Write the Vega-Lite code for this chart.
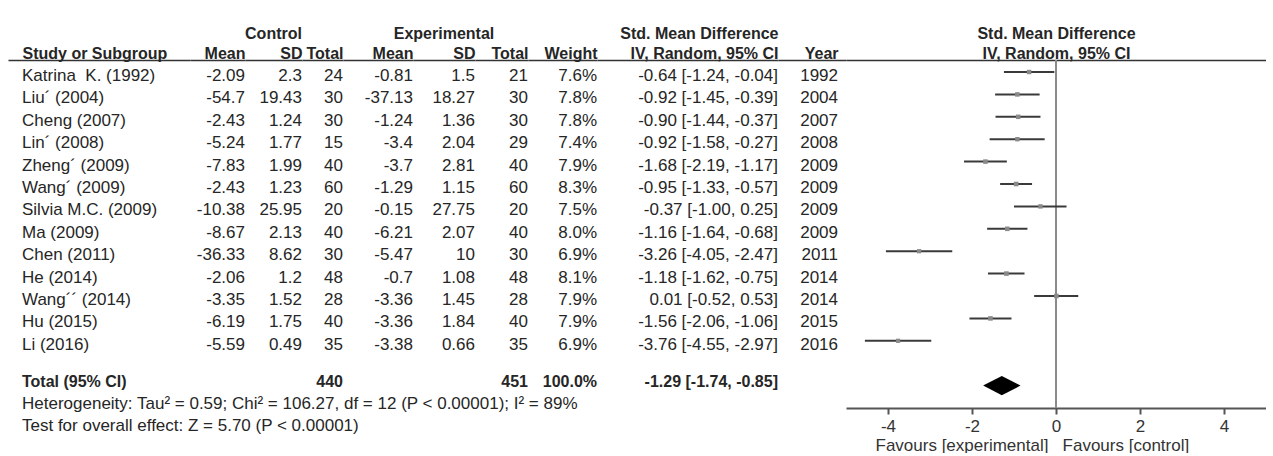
{
  "$schema": "https://vega.github.io/schema/vega-lite/v6.json",
  "padding": {"left": 8, "top": 25, "right": 0, "bottom": 0},
  "bounds": "flush",
  "spacing": 0,
  "data": {"values": [
    {"study": "Katrina\u00a0 K. (1992)", "kind": "study", "c_mean": "-2.09", "c_sd": "2.3", "c_n": "24", "e_mean": "-0.81", "e_sd": "1.5", "e_n": "21", "weight": "7.6%", "w": 7.6, "ci": "-0.64 [-1.24, -0.04]", "year": "1992", "est": -0.64, "lo": -1.24, "hi": -0.04},
    {"study": "Liu´ (2004)", "kind": "study", "c_mean": "-54.7", "c_sd": "19.43", "c_n": "30", "e_mean": "-37.13", "e_sd": "18.27", "e_n": "30", "weight": "7.8%", "w": 7.8, "ci": "-0.92 [-1.45, -0.39]", "year": "2004", "est": -0.92, "lo": -1.45, "hi": -0.39},
    {"study": "Cheng (2007)", "kind": "study", "c_mean": "-2.43", "c_sd": "1.24", "c_n": "30", "e_mean": "-1.24", "e_sd": "1.36", "e_n": "30", "weight": "7.8%", "w": 7.8, "ci": "-0.90 [-1.44, -0.37]", "year": "2007", "est": -0.90, "lo": -1.44, "hi": -0.37},
    {"study": "Lin´ (2008)", "kind": "study", "c_mean": "-5.24", "c_sd": "1.77", "c_n": "15", "e_mean": "-3.4", "e_sd": "2.04", "e_n": "29", "weight": "7.4%", "w": 7.4, "ci": "-0.92 [-1.58, -0.27]", "year": "2008", "est": -0.92, "lo": -1.58, "hi": -0.27},
    {"study": "Zheng´ (2009)", "kind": "study", "c_mean": "-7.83", "c_sd": "1.99", "c_n": "40", "e_mean": "-3.7", "e_sd": "2.81", "e_n": "40", "weight": "7.9%", "w": 7.9, "ci": "-1.68 [-2.19, -1.17]", "year": "2009", "est": -1.68, "lo": -2.19, "hi": -1.17},
    {"study": "Wang´ (2009)", "kind": "study", "c_mean": "-2.43", "c_sd": "1.23", "c_n": "60", "e_mean": "-1.29", "e_sd": "1.15", "e_n": "60", "weight": "8.3%", "w": 8.3, "ci": "-0.95 [-1.33, -0.57]", "year": "2009", "est": -0.95, "lo": -1.33, "hi": -0.57},
    {"study": "Silvia M.C. (2009)", "kind": "study", "c_mean": "-10.38", "c_sd": "25.95", "c_n": "20", "e_mean": "-0.15", "e_sd": "27.75", "e_n": "20", "weight": "7.5%", "w": 7.5, "ci": "-0.37 [-1.00, 0.25]", "year": "2009", "est": -0.37, "lo": -1.00, "hi": 0.25},
    {"study": "Ma (2009)", "kind": "study", "c_mean": "-8.67", "c_sd": "2.13", "c_n": "40", "e_mean": "-6.21", "e_sd": "2.07", "e_n": "40", "weight": "8.0%", "w": 8.0, "ci": "-1.16 [-1.64, -0.68]", "year": "2009", "est": -1.16, "lo": -1.64, "hi": -0.68},
    {"study": "Chen (2011)", "kind": "study", "c_mean": "-36.33", "c_sd": "8.62", "c_n": "30", "e_mean": "-5.47", "e_sd": "10", "e_n": "30", "weight": "6.9%", "w": 6.9, "ci": "-3.26 [-4.05, -2.47]", "year": "2011", "est": -3.26, "lo": -4.05, "hi": -2.47},
    {"study": "He (2014)", "kind": "study", "c_mean": "-2.06", "c_sd": "1.2", "c_n": "48", "e_mean": "-0.7", "e_sd": "1.08", "e_n": "48", "weight": "8.1%", "w": 8.1, "ci": "-1.18 [-1.62, -0.75]", "year": "2014", "est": -1.18, "lo": -1.62, "hi": -0.75},
    {"study": "Wang´´ (2014)", "kind": "study", "c_mean": "-3.35", "c_sd": "1.52", "c_n": "28", "e_mean": "-3.36", "e_sd": "1.45", "e_n": "28", "weight": "7.9%", "w": 7.9, "ci": "0.01 [-0.52, 0.53]", "year": "2014", "est": 0.01, "lo": -0.52, "hi": 0.53},
    {"study": "Hu (2015)", "kind": "study", "c_mean": "-6.19", "c_sd": "1.75", "c_n": "40", "e_mean": "-3.36", "e_sd": "1.84", "e_n": "40", "weight": "7.9%", "w": 7.9, "ci": "-1.56 [-2.06, -1.06]", "year": "2015", "est": -1.56, "lo": -2.06, "hi": -1.06},
    {"study": "Li (2016)", "kind": "study", "c_mean": "-5.59", "c_sd": "0.49", "c_n": "35", "e_mean": "-3.38", "e_sd": "0.66", "e_n": "35", "weight": "6.9%", "w": 6.9, "ci": "-3.76 [-4.55, -2.97]", "year": "2016", "est": -3.76, "lo": -4.55, "hi": -2.97},
    {"study": " ", "kind": "blank"},
    {"study": "Total (95% CI)", "kind": "total", "c_n": "440", "e_n": "451", "weight": "100.0%", "ci": "-1.29 [-1.74, -0.85]", "est": -1.29, "lo": -1.74, "hi": -0.85},
    {"study": "Heterogeneity: Tau² = 0.59; Chi² = 106.27, df = 12 (P < 0.00001); I² = 89%", "kind": "note"},
    {"study": "Test for overall effect: Z = 5.70 (P < 0.00001)", "kind": "note"}
  ]},
  "hconcat": [
    {
      "width": 182, "height": 380,
      "mark": {"type": "text", "align": "left", "baseline": "middle", "dx": 14, "dy": {"expr": "datum.kind == 'study' ? 4 : -4"}, "fontWeight": {"expr": "datum.kind == 'total' ? 'bold' : 'normal'"}, "fontSize": {"expr": "datum.kind == 'total' ? 16 : 17"}},
      "encoding": {
        "x": {"datum": 0, "type": "quantitative", "scale": {"domain": [0, 1]}, "axis": {"orient": "top", "title": "Study or Subgroup", "titleX": 14, "titleAlign": "left"}},
        "y": {"field": "study", "type": "nominal", "sort": null, "axis": null, "scale": {"type": "point", "padding": 0.482, "align": 0.556, "round": false}},
        "text": {"field": "study", "type": "nominal"}
      }
    },
    {
      "width": 55, "height": 380,
      "mark": {"type": "text", "align": "right", "baseline": "middle", "dy": {"expr": "datum.kind == 'study' ? 4 : -4"}, "fontWeight": {"expr": "datum.kind == 'total' ? 'bold' : 'normal'"}, "fontSize": {"expr": "datum.kind == 'total' ? 16 : 17"}},
      "encoding": {
        "x": {"datum": 1, "type": "quantitative", "scale": {"domain": [0, 1]}, "axis": {"orient": "top", "title": "Mean", "titleAnchor": "end"}},
        "y": {"field": "study", "type": "nominal", "sort": null, "axis": null, "scale": {"type": "point", "padding": 0.482, "align": 0.556, "round": false}},
        "text": {"condition": {"test": "isValid(datum.c_mean)", "field": "c_mean", "type": "nominal"}, "value": ""}
      }
    },
    {
      "title": {"text": "Control"},
      "width": 57, "height": 380,
      "mark": {"type": "text", "align": "right", "baseline": "middle", "dy": {"expr": "datum.kind == 'study' ? 4 : -4"}, "fontWeight": {"expr": "datum.kind == 'total' ? 'bold' : 'normal'"}, "fontSize": {"expr": "datum.kind == 'total' ? 16 : 17"}},
      "encoding": {
        "x": {"datum": 1, "type": "quantitative", "scale": {"domain": [0, 1]}, "axis": {"orient": "top", "title": "SD", "titleAnchor": "end"}},
        "y": {"field": "study", "type": "nominal", "sort": null, "axis": null, "scale": {"type": "point", "padding": 0.482, "align": 0.556, "round": false}},
        "text": {"condition": {"test": "isValid(datum.c_sd)", "field": "c_sd", "type": "nominal"}, "value": ""}
      }
    },
    {
      "width": 41, "height": 380,
      "mark": {"type": "text", "align": "right", "baseline": "middle", "dy": {"expr": "datum.kind == 'study' ? 4 : -4"}, "fontWeight": {"expr": "datum.kind == 'total' ? 'bold' : 'normal'"}, "fontSize": {"expr": "datum.kind == 'total' ? 16 : 17"}},
      "encoding": {
        "x": {"datum": 1, "type": "quantitative", "scale": {"domain": [0, 1]}, "axis": {"orient": "top", "title": "Total", "titleAnchor": "end"}},
        "y": {"field": "study", "type": "nominal", "sort": null, "axis": null, "scale": {"type": "point", "padding": 0.482, "align": 0.556, "round": false}},
        "text": {"condition": {"test": "isValid(datum.c_n)", "field": "c_n", "type": "nominal"}, "value": ""}
      }
    },
    {
      "width": 70, "height": 380,
      "mark": {"type": "text", "align": "right", "baseline": "middle", "dy": {"expr": "datum.kind == 'study' ? 4 : -4"}, "fontWeight": {"expr": "datum.kind == 'total' ? 'bold' : 'normal'"}, "fontSize": {"expr": "datum.kind == 'total' ? 16 : 17"}},
      "encoding": {
        "x": {"datum": 1, "type": "quantitative", "scale": {"domain": [0, 1]}, "axis": {"orient": "top", "title": "Mean", "titleAnchor": "end"}},
        "y": {"field": "study", "type": "nominal", "sort": null, "axis": null, "scale": {"type": "point", "padding": 0.482, "align": 0.556, "round": false}},
        "text": {"condition": {"test": "isValid(datum.e_mean)", "field": "e_mean", "type": "nominal"}, "value": ""}
      }
    },
    {
      "title": {"text": "Experimental"},
      "width": 62, "height": 380,
      "mark": {"type": "text", "align": "right", "baseline": "middle", "dy": {"expr": "datum.kind == 'study' ? 4 : -4"}, "fontWeight": {"expr": "datum.kind == 'total' ? 'bold' : 'normal'"}, "fontSize": {"expr": "datum.kind == 'total' ? 16 : 17"}},
      "encoding": {
        "x": {"datum": 1, "type": "quantitative", "scale": {"domain": [0, 1]}, "axis": {"orient": "top", "title": "SD", "titleAnchor": "end"}},
        "y": {"field": "study", "type": "nominal", "sort": null, "axis": null, "scale": {"type": "point", "padding": 0.482, "align": 0.556, "round": false}},
        "text": {"condition": {"test": "isValid(datum.e_sd)", "field": "e_sd", "type": "nominal"}, "value": ""}
      }
    },
    {
      "width": 53, "height": 380,
      "mark": {"type": "text", "align": "right", "baseline": "middle", "dy": {"expr": "datum.kind == 'study' ? 4 : -4"}, "fontWeight": {"expr": "datum.kind == 'total' ? 'bold' : 'normal'"}, "fontSize": {"expr": "datum.kind == 'total' ? 16 : 17"}},
      "encoding": {
        "x": {"datum": 1, "type": "quantitative", "scale": {"domain": [0, 1]}, "axis": {"orient": "top", "title": "Total", "titleAnchor": "end"}},
        "y": {"field": "study", "type": "nominal", "sort": null, "axis": null, "scale": {"type": "point", "padding": 0.482, "align": 0.556, "round": false}},
        "text": {"condition": {"test": "isValid(datum.e_n)", "field": "e_n", "type": "nominal"}, "value": ""}
      }
    },
    {
      "width": 69, "height": 380,
      "mark": {"type": "text", "align": "right", "baseline": "middle", "dy": {"expr": "datum.kind == 'study' ? 4 : -4"}, "fontWeight": {"expr": "datum.kind == 'total' ? 'bold' : 'normal'"}, "fontSize": {"expr": "datum.kind == 'total' ? 16 : 17"}},
      "encoding": {
        "x": {"datum": 1, "type": "quantitative", "scale": {"domain": [0, 1]}, "axis": {"orient": "top", "title": "Weight", "titleAnchor": "end"}},
        "y": {"field": "study", "type": "nominal", "sort": null, "axis": null, "scale": {"type": "point", "padding": 0.482, "align": 0.556, "round": false}},
        "text": {"condition": {"test": "isValid(datum.weight)", "field": "weight", "type": "nominal"}, "value": ""}
      }
    },
    {
      "width": 181, "height": 380,
      "mark": {"type": "text", "align": "right", "baseline": "middle", "dy": {"expr": "datum.kind == 'study' ? 4 : -4"}, "fontWeight": {"expr": "datum.kind == 'total' ? 'bold' : 'normal'"}, "fontSize": {"expr": "datum.kind == 'total' ? 16 : 17"}},
      "encoding": {
        "x": {"datum": 1, "type": "quantitative", "scale": {"domain": [0, 1]}, "axis": {"orient": "top", "title": ["Std. Mean Difference", "IV, Random, 95% CI"], "titleAnchor": "end"}},
        "y": {"field": "study", "type": "nominal", "sort": null, "axis": null, "scale": {"type": "point", "padding": 0.482, "align": 0.556, "round": false}},
        "text": {"condition": {"test": "isValid(datum.ci)", "field": "ci", "type": "nominal"}, "value": ""}
      }
    },
    {
      "width": 68, "height": 380,
      "mark": {"type": "text", "align": "right", "baseline": "middle", "dx": -8, "dy": {"expr": "datum.kind == 'study' ? 4 : -4"}, "fontSize": 17},
      "encoding": {
        "x": {"datum": 1, "type": "quantitative", "scale": {"domain": [0, 1]}, "axis": {"orient": "top", "title": "Year", "titleX": 60, "titleAlign": "right"}},
        "y": {"field": "study", "type": "nominal", "sort": null, "axis": null, "scale": {"type": "point", "padding": 0.482, "align": 0.556, "round": false}},
        "text": {"condition": {"test": "isValid(datum.year)", "field": "year", "type": "nominal"}, "value": ""}
      }
    },
    {
      "width": 420, "height": 348,
      "layer": [
        {
          "transform": [{"filter": "datum.kind == 'total'"}],
          "mark": {"type": "rule", "color": "#8a8a8a", "strokeWidth": 2},
          "encoding": {
            "x": {"datum": 0, "type": "quantitative", "scale": {"domain": [-5, 5], "nice": false, "zero": false}, "axis": {"orient": "top", "title": ["Std. Mean Difference", "IV, Random, 95% CI"]}}
          }
        },
        {
          "transform": [{"filter": "datum.kind == 'study'"}],
          "mark": {"type": "rule", "color": "#3a3a3a", "strokeWidth": 2},
          "encoding": {
            "x": {"field": "lo", "type": "quantitative", "scale": {"domain": [-5, 5], "nice": false, "zero": false},
              "axis": {"orient": "bottom", "values": [-4, -2, 0, 2, 4], "ticks": true, "labels": true, "tickSize": 6, "tickWidth": 2, "tickColor": "#555", "domainColor": "#555", "domainWidth": 2, "labelFontSize": 17, "labelColor": "#333", "labelPadding": 4, "labelFlush": false, "labelExpr": "'' + datum.value", "title": "Favours [experimental]\u00a0\u00a0\u00a0Favours [control]", "titleFontWeight": "normal", "titleFontSize": 17, "titleColor": "#333", "titleBaseline": "top", "titlePadding": 3, "titleX": 29, "titleAlign": "left"}},
            "x2": {"field": "hi"},
            "y": {"field": "study", "type": "nominal", "axis": null, "scale": {"type": "point", "domain": ["Katrina\u00a0 K. (1992)", "Liu´ (2004)", "Cheng (2007)", "Lin´ (2008)", "Zheng´ (2009)", "Wang´ (2009)", "Silvia M.C. (2009)", "Ma (2009)", "Chen (2011)", "He (2014)", "Wang´´ (2014)", "Hu (2015)", "Li (2016)", " ", "Total (95% CI)"], "padding": 0.768, "align": 0.349, "round": false}}
          }
        },
        {
          "transform": [{"filter": "datum.kind == 'study'"}],
          "mark": {"type": "square", "color": "#8a8a8a", "opacity": 1},
          "encoding": {
            "x": {"field": "est", "type": "quantitative", "scale": {"domain": [-5, 5], "nice": false, "zero": false}, "axis": null},
            "y": {"field": "study", "type": "nominal", "axis": null},
            "size": {"field": "w", "type": "quantitative", "scale": {"domain": [0, 10], "range": [0, 26]}, "legend": null}
          }
        },
        {
          "transform": [{"filter": "datum.kind == 'total'"}],
          "mark": {"type": "point", "shape": "M-1,0L0,-0.51L1,0L0,0.51Z", "size": 1400, "filled": true, "color": "#000", "opacity": 1},
          "encoding": {
            "x": {"field": "est", "type": "quantitative", "scale": {"domain": [-5, 5], "nice": false, "zero": false}, "axis": null},
            "y": {"field": "study", "type": "nominal", "axis": null}
          }
        }
      ],
      "resolve": {"axis": {"x": "independent"}}
    }
  ],
  "config": {
    "font": "Liberation Sans",
    "view": {"stroke": null},
    "text": {"color": "#262626"},
    "title": {"fontSize": 16, "fontWeight": "bold", "color": "#262626", "anchor": "middle", "offset": 3, "font": "Liberation Sans"},
    "axis": {"ticks": false, "labels": false, "grid": false, "domainColor": "#333", "domainWidth": 1.5, "titleFontSize": 16, "titleFontWeight": "bold", "titleColor": "#262626", "titleBaseline": "alphabetic", "titlePadding": 2, "titleLineHeight": 20}
  }
}
